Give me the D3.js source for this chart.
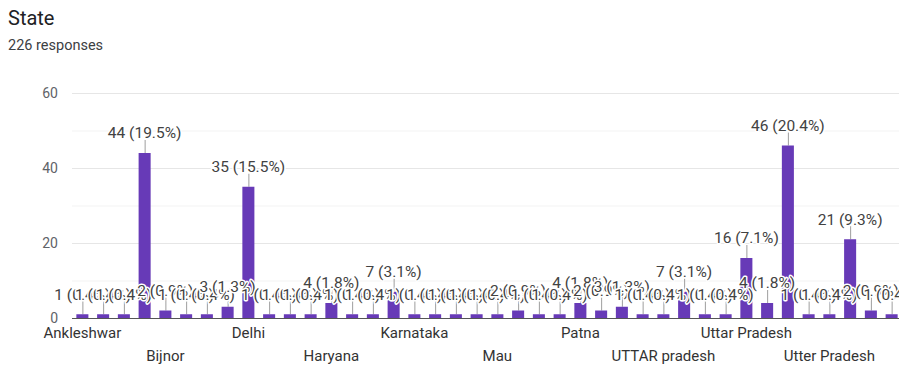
<!DOCTYPE html>
<html>
<head>
<meta charset="utf-8">
<script src="https://cdn.jsdelivr.net/npm/d3@7"></script>
<style>
  html, body { margin: 0; padding: 0; background: #fff; }
  svg { display: block; font-family: Roboto, "Noto Sans", Arial, sans-serif; }
</style>
</head>
<body>
<svg id="chart" width="899" height="367"></svg>
<script>
// Responses per state, in the order the form lists them
const states = [
  "Ankleshwar", "Assam", "BIHAR", "Bihar", "Bijnor", "Chandigarh", "Chhattisgarh", "DELHI",
  "Delhi", "Gujarat", "Gurgaon", "HARYANA", "Haryana", "Himachal Pradesh", "Jammu", "Jharkhand",
  "Karnataka", "Kerala", "Lucknow", "MP", "Mau", "Mumbai", "Noida", "Odisha",
  "Patna", "Punjab", "Rajasthan", "Tamil Nadu", "UTTAR pradesh", "Up", "Uttar", "Uttar PRADESH",
  "Uttar Pradesh", "Uttar Pradesh, India", "Uttar pradesh", "Uttarakhand", "Utter Pradesh", "Uttrakhand", "Varanasi", "West Bengal"
];
const counts = [
  1, 1, 1, 44, 2, 1, 1, 3,
  35, 1, 1, 1, 4, 1, 1, 7,
  1, 1, 1, 1, 1, 2, 1, 1,
  4, 2, 3, 1, 1, 7, 1, 1,
  16, 4, 46, 1, 1, 21, 2, 1
];
const totalResponses = 226;
const yTicks = [0, 20, 40, 60];
const yMinorTicks = [10, 30, 50];

const title = "State";
const subtitle = totalResponses + " responses";

const svg = d3.select("#chart");
const plot = { left: 72, right: 902, top: 93, bottom: 318 };

const x = d3.scaleBand()
  .domain(states)
  .range([plot.left, plot.right])
  .paddingInner(0.42)
  .paddingOuter(0.21);

const y = d3.scaleLinear()
  .domain([0, 60])
  .range([plot.bottom, plot.top]);

// Heading
svg.append("text")
  .attr("x", 8).attr("y", 25)
  .attr("font-size", 20)
  .attr("fill", "#202124")
  .text(title);
svg.append("text")
  .attr("x", 8).attr("y", 50)
  .attr("font-size", 14.5)
  .attr("fill", "#3c4043")
  .text(subtitle);

// Gridlines
svg.append("g")
  .selectAll("line")
  .data(yMinorTicks)
  .join("line")
  .attr("x1", plot.left).attr("x2", 899)
  .attr("y1", d => y(d) + 0.5).attr("y2", d => y(d) + 0.5)
  .attr("stroke", "#f3f3f3");
svg.append("g")
  .selectAll("line")
  .data(yTicks.filter(d => d > 0))
  .join("line")
  .attr("x1", plot.left).attr("x2", 899)
  .attr("y1", d => y(d) + 0.5).attr("y2", d => y(d) + 0.5)
  .attr("stroke", "#e6e6e6");

// Y axis labels
const yAxis = d3.axisLeft(y).tickValues(yTicks).tickSize(0).tickPadding(0);
const gy = svg.append("g")
  .attr("transform", `translate(${58},0)`)
  .call(yAxis);
gy.select(".domain").remove();
gy.selectAll("text")
  .attr("font-size", 14)
  .attr("font-family", "Roboto, sans-serif")
  .attr("fill", "#5f6368");

// Annotation stems (behind bars)
const labelGap = 20;
svg.append("g")
  .selectAll("line")
  .data(states)
  .join("line")
  .attr("x1", d => x(d) + x.bandwidth() / 2 + 0.5)
  .attr("x2", d => x(d) + x.bandwidth() / 2 + 0.5)
  .attr("y1", (d, i) => y(counts[i]))
  .attr("y2", (d, i) => y(counts[i]) - labelGap + 7)
  .attr("stroke", "#9e9e9e")
  .attr("stroke-width", 1);

// Bars
svg.append("g")
  .selectAll("rect")
  .data(states)
  .join("rect")
  .attr("x", d => x(d))
  .attr("width", x.bandwidth())
  .attr("y", (d, i) => y(counts[i]))
  .attr("height", (d, i) => y(0) - y(counts[i]))
  .attr("fill", "#673ab7");

// Baseline
svg.append("line")
  .attr("x1", plot.left).attr("x2", 899)
  .attr("y1", y(0) + 0.5).attr("y2", y(0) + 0.5)
  .attr("stroke", "#555")
  .attr("stroke-width", 1);

// X axis labels: every fourth category, staggered on two rows
const xAxis = d3.axisBottom(x)
  .tickValues(states.filter((d, i) => i % 4 === 0))
  .tickSize(0).tickPadding(0);
const gx = svg.append("g")
  .attr("transform", `translate(0,${plot.bottom})`)
  .call(xAxis);
gx.select(".domain").remove();
gx.selectAll(".tick text")
  .attr("font-size", 15)
  .attr("font-family", "Roboto, sans-serif")
  .attr("fill", "#333")
  .attr("dy", null)
  .attr("y", d => (states.indexOf(d) % 8 === 0) ? 20 : 43);

// Value annotations: "count (percent%)"
const fmtPct = v => (v / totalResponses * 100).toFixed(1);
svg.append("g")
  .selectAll("text")
  .data(states)
  .join("text")
  .attr("x", d => x(d) + x.bandwidth() / 2)
  .attr("y", (d, i) => y(counts[i]) - labelGap)
  .attr("dy", "0.35em")
  .attr("text-anchor", "middle")
  .attr("font-size", 15.5)
  .attr("fill", "#424242")
  .attr("stroke", "#fff")
  .attr("stroke-width", 3)
  .attr("stroke-linejoin", "round")
  .attr("paint-order", "stroke")
  .text((d, i) => `${counts[i]} (${fmtPct(counts[i])}%)`);
</script>
</body>
</html>
